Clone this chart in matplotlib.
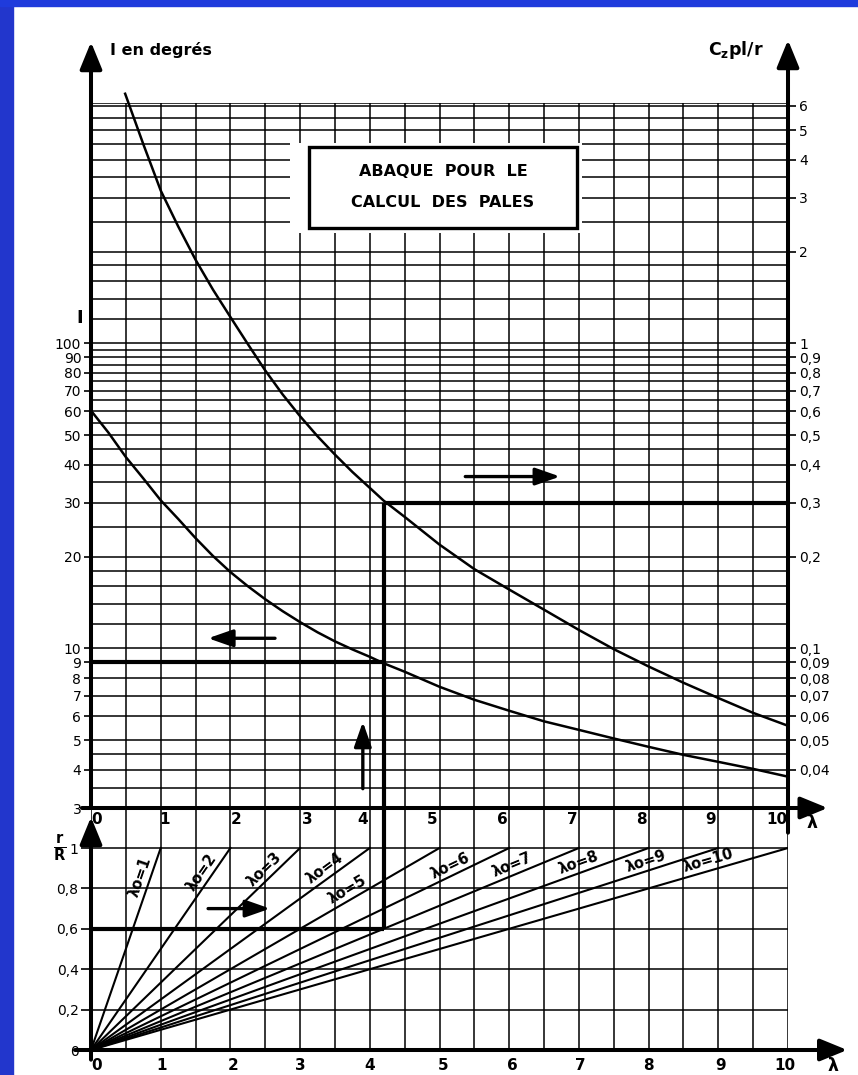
"""Abaque pour le calcul des pales"""

import numpy as np
import matplotlib
matplotlib.use('Agg')
import matplotlib.pyplot as plt
from matplotlib.patches import Rectangle

plt.rcParams['font.family'] = ['DejaVu Sans']
plt.rcParams['mathtext.fontset'] = 'dejavusans'

# ---- donnees lues sur l'abaque ----
# courbe I (degres) en fonction de lambda
lam_I = [0, 0.25, 0.5, 0.75, 1.0, 1.25, 1.5, 1.75, 2.0, 2.25, 2.5, 2.75, 3.0,
         3.25, 3.5, 3.75, 4.0, 4.2, 4.5, 5.0, 5.5, 6.0, 6.5, 7.0, 7.5, 8.0,
         8.5, 9.0, 9.5, 10.0]
I_deg = [60.2, 51.0, 42.4, 36.1, 30.6, 26.6, 23.0, 20.1, 17.8, 16.0, 14.5, 13.25,
         12.2, 11.3, 10.55, 9.93, 9.39, 8.94, 8.39, 7.49, 6.79, 6.25, 5.77, 5.41,
         5.07, 4.76, 4.48, 4.25, 4.03, 3.80]

# courbe Cz.pl/r en fonction de lambda
lam_cz = [0.49, 0.75, 1.0, 1.25, 1.5, 1.75, 2.0, 2.25, 2.5, 2.75, 3.0, 3.25,
          3.5, 3.75, 4.0, 4.2, 4.5, 5.0, 5.5, 6.0, 6.5, 7.0, 7.5, 8.0, 8.5,
          9.0, 9.5, 10.0]
cz_vals = [6.58, 4.50, 3.17, 2.42, 1.88, 1.50, 1.22, 0.995, 0.815, 0.680, 0.577,
           0.496, 0.432, 0.379, 0.336, 0.305, 0.270, 0.219, 0.182, 0.156, 0.134,
           0.115, 0.0995, 0.0873, 0.0772, 0.0688, 0.0615, 0.0558]

# droites r/R = lambda / lambda_o
lambda_o = [1, 2, 3, 4, 5, 6, 7, 8, 9, 10]

# exemple de lecture (traits gras)
ex_lambda = 4.2
ex_rR = 0.6
ex_I = 9
ex_cz = 0.3

# graduations
I_ticks = [3, 4, 5, 6, 7, 8, 9, 10, 20, 30, 40, 50, 60, 70, 80, 90, 100]
cz_ticks = [0.04, 0.05, 0.06, 0.07, 0.08, 0.09, 0.1, 0.2, 0.3, 0.4, 0.5, 0.6,
            0.7, 0.8, 0.9, 1, 2, 3, 4, 5, 6]
cz_labels = ['0,04', '0,05', '0,06', '0,07', '0,08', '0,09', '0,1', '0,2', '0,3',
             '0,4', '0,5', '0,6', '0,7', '0,8', '0,9', '1', '2', '3', '4', '5', '6']
I_grid = [3, 3.5, 4, 4.5, 5, 6, 7, 8, 9, 10, 12, 14, 16, 18, 20, 25, 30, 35, 40,
          45, 50, 55, 60, 65, 70, 75, 80, 85, 90, 95, 100, 120, 140, 160, 180,
          200, 250, 300, 350, 400, 450, 500, 550, 600, 615]
lam_grid = np.arange(0, 10.01, 0.5)
rR_grid = [0.2, 0.4, 0.6, 0.8, 1.0]
rR_ticks = [0, 0.2, 0.4, 0.6, 0.8, 1]
rR_labels = ['0', '0,2', '0,4', '0,6', '0,8', '1']
lam_labels = list(range(0, 11))

W, H = 858, 1075
fig = plt.figure(figsize=(W / 100, H / 100), dpi=100)
fig.patch.set_facecolor('white')


def fx(px):
    return px / W


def fy(py):
    return 1 - py / H


# bord bleu
fig.patches.append(Rectangle((0, 0), fx(13), 1, transform=fig.transFigure,
                             color='#2236cc', zorder=0))
fig.patches.append(Rectangle((0, fy(6)), 1, 6 / H, transform=fig.transFigure,
                             color='#1f3bdc', zorder=0))

GRID_LW = 1.1
AXIS_LW = 2.9
BOLD_LW = 3.0
CURVE_LW = 1.8

# === abaque haut ===
ax = fig.add_axes([fx(91), fy(808), fx(788) - fx(91), (808 - 102.7) / H])
ax.set_xlim(0, 10)
ax.set_yscale('log')
ax.set_ylim(3, 615)
ax_r = ax.twinx()
ax_r.set_yscale('log')
ax_r.set_ylim(0.03, 6.15)

for a in (ax, ax_r):
    for s in a.spines.values():
        s.set_visible(False)
    a.set_xticks([])
    a.set_yticks([], minor=True)
    a.patch.set_alpha(0)

ax.hlines(I_grid, 0, 10, color='k', lw=GRID_LW, zorder=1)
ax.vlines(lam_grid, 3, 615, color='k', lw=GRID_LW, zorder=1)

ax.set_yticks(I_ticks)
ax.set_yticklabels([str(v) for v in I_ticks])
ax.tick_params(axis='y', direction='out', length=5, width=1.2, pad=2, labelsize=10)
ax_r.set_yticks(cz_ticks)
ax_r.set_yticklabels(cz_labels)
ax_r.tick_params(axis='y', direction='out', length=6, width=1.2, pad=2, labelsize=10)

ax.plot(lam_I, I_deg, color='k', lw=CURVE_LW, zorder=3, solid_joinstyle='round')
ax_r.plot(lam_cz, cz_vals, color='k', lw=CURVE_LW, zorder=3, clip_on=False,
          solid_joinstyle='round')

# traits gras de l'exemple
ax.hlines(ex_I, 0, ex_lambda, color='k', lw=BOLD_LW, zorder=4)
ax_r.vlines(ex_lambda, 0.03, ex_cz, color='k', lw=BOLD_LW, zorder=4)
ax_r.hlines(ex_cz, ex_lambda, 10, color='k', lw=BOLD_LW, zorder=4)

# cadre du titre
ax.add_patch(Rectangle((0.2855, 0.8153), 0.4189, 0.1276, transform=ax.transAxes,
                       facecolor='white', edgecolor='none', zorder=5))
ax.add_patch(Rectangle((0.3128, 0.8224), 0.3842, 0.1146, transform=ax.transAxes,
                       facecolor='white', edgecolor='k', lw=2.4, zorder=6))
ax.text(0.505, 0.902, 'ABAQUE  POUR  LE', transform=ax.transAxes, ha='center',
        va='center', fontsize=11.5, fontweight='bold', zorder=7)
ax.text(0.505, 0.858, 'CALCUL  DES  PALES', transform=ax.transAxes, ha='center',
        va='center', fontsize=11.5, fontweight='bold', zorder=7)

# axes avec fleches
arrow_axis = dict(arrowstyle='-|>,head_length=1.1,head_width=0.45', lw=AXIS_LW,
                  color='k', mutation_scale=15, shrinkA=0, shrinkB=0)
ax.annotate('', xy=(0, (808 - 42) / 705.3), xytext=(0, 0), xycoords='axes fraction',
            arrowprops=arrow_axis, annotation_clip=False)
ax.annotate('', xy=(1, (808 - 40) / 705.3), xytext=(1, -0.035), xycoords='axes fraction',
            arrowprops=arrow_axis, annotation_clip=False)
ax.annotate('', xy=(1.057, 0), xytext=(-0.013, 0), xycoords='axes fraction',
            arrowprops=arrow_axis, annotation_clip=False)

# fleches de lecture
arrow_read = dict(arrowstyle='-|>,head_length=1.0,head_width=0.35', lw=2.4,
                  color='k', mutation_scale=15, shrinkA=0, shrinkB=0)
ax.annotate('', xy=(1.68, 10.8), xytext=(2.64, 10.8), arrowprops=arrow_read)
ax.annotate('', xy=(6.73, 36.6), xytext=(5.37, 36.6), arrowprops=arrow_read)
ax.annotate('', xy=(3.90, 5.75), xytext=(3.90, 3.47), arrowprops=arrow_read)

# graduations lambda haut
up_dx = [6, 4, 6, 7, -7, -7, -7, -7, -7, -8, -11]
for k, dx in zip(lam_labels, up_dx):
    ax.annotate(str(k), xy=(k, 3), xytext=(dx * 0.72, -8), textcoords='offset points',
                ha='center', va='center', fontsize=11, fontweight='bold',
                annotation_clip=False)

fig.text(fx(110), fy(50), 'I en degrés', ha='left', va='center', fontsize=11.5,
         fontweight='bold')
fig.text(fx(708), fy(50), r'C$_\mathbf{z}$pl/r', ha='left', va='center',
         fontsize=12.5, fontweight='bold')
fig.text(fx(80), fy(318), 'I', ha='center', va='center', fontsize=13,
         fontweight='bold')
fig.text(fx(812), fy(823), 'λ', ha='center', va='center', fontsize=12.5,
         fontweight='bold')

# === abaque bas ===
axl = fig.add_axes([fx(91), fy(1050), fx(788) - fx(91), (1050 - 807.6) / H])
axl.set_xlim(0, 10)
axl.set_ylim(0, 1.2)
for s in axl.spines.values():
    s.set_visible(False)
axl.patch.set_alpha(0)
axl.set_xticks([])
axl.hlines(rR_grid, 0, 10, color='k', lw=GRID_LW, zorder=1)
axl.vlines(lam_grid, 0, 1.2, color='k', lw=GRID_LW, zorder=1)
axl.set_yticks(rR_ticks)
axl.set_yticklabels(rR_labels)
axl.tick_params(axis='y', direction='out', length=7, width=1.2, pad=2, labelsize=10)

for k in lambda_o:
    axl.plot([0, k], [0, 1], color='k', lw=1.5, zorder=3)

axl.hlines(ex_rR, 0, ex_lambda, color='k', lw=BOLD_LW, zorder=4)
axl.vlines(ex_lambda, ex_rR, 1.2, color='k', lw=BOLD_LW, zorder=4)

axl.annotate('', xy=(0, (1050 - 817) / 242.4), xytext=(0, -0.04),
             xycoords='axes fraction', arrowprops=arrow_axis, annotation_clip=False)
axl.annotate('', xy=(1.085, 0), xytext=(-0.023, 0), xycoords='axes fraction',
             arrowprops=arrow_axis, annotation_clip=False)
axl.annotate('', xy=(2.57, 0.70), xytext=(1.68, 0.70), arrowprops=arrow_read)

# etiquettes lambda_o le long des droites
t_pos = [0.84, 0.85, 0.86, 0.86, 0.75, 0.87, 0.87, 0.88, 0.89, 0.89]
for k, t in zip(lambda_o, t_pos):
    px, py = k * t, t
    ang = axl.transData.transform_angles(np.array([np.degrees(np.arctan2(1, k))]),
                                         np.array([[px, py]]))[0]
    d = 7
    ox = -np.sin(np.radians(ang)) * d
    oy = np.cos(np.radians(ang)) * d
    axl.annotate(f'λo={k}', xy=(px, py), xytext=(ox, oy), textcoords='offset points',
                 rotation=ang, rotation_mode='anchor', ha='center', va='center',
                 fontsize=10.5, fontweight='bold', zorder=5)

low_dx = [6, 1, 3, 0, 0, 4, 3, 1, 0, 2, -3]
for k, dx in zip(lam_labels, low_dx):
    axl.annotate(str(k), xy=(k, 0), xytext=(dx * 0.72, -11), textcoords='offset points',
                 ha='center', va='center', fontsize=11, fontweight='bold',
                 annotation_clip=False)

fig.text(fx(60), fy(848), r'$\mathbf{\frac{r}{R}}$', ha='center', va='center',
         fontsize=15)
fig.text(fx(833), fy(1066), 'λ', ha='center', va='center', fontsize=12.5,
         fontweight='bold')

plt.savefig('out.png', dpi=100)
